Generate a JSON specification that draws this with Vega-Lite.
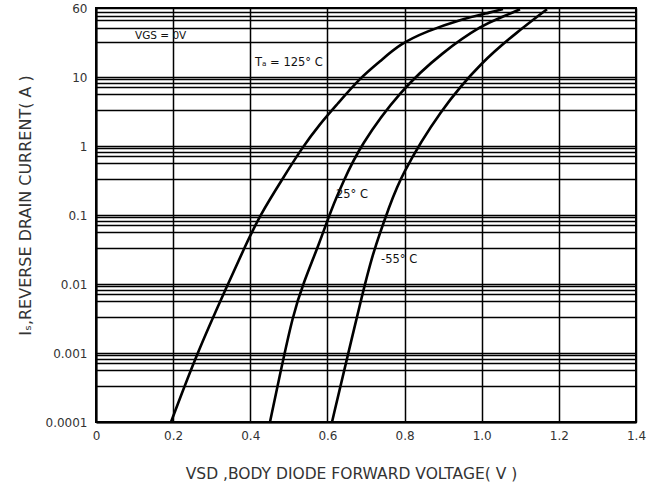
{
  "$schema": "https://vega.github.io/schema/vega-lite/v6.json",
  "width": 540,
  "height": 414,
  "autosize": "none",
  "padding": {"left": 96, "top": 8, "right": 20, "bottom": 61},
  "background": "white",
  "config": {
    "view": {"stroke": "#000", "strokeWidth": 2},
    "font": "DejaVu Sans",
    "axis": {
      "domainColor": "#000", "domainWidth": 2,
      "gridColor": "#000", "gridWidth": 1.5, "gridOpacity": 1,
      "ticks": false,
      "labelFont": "DejaVu Sans", "labelFontSize": 12, "labelColor": "#333",
      "titleFont": "DejaVu Sans", "titleFontSize": 15.5, "titleFontWeight": "normal", "titleColor": "#333",
      "labelOverlap": false, "labelFlush": false
    }
  },
  "datasets": {
    "curves": [
      {"series": "125", "v": 0.1945, "i": 0.0001},
      {"series": "125", "v": 0.2619, "i": 0.001},
      {"series": "125", "v": 0.3422, "i": 0.01},
      {"series": "125", "v": 0.3863, "i": 0.035},
      {"series": "125", "v": 0.4252, "i": 0.1},
      {"series": "125", "v": 0.4848, "i": 0.343},
      {"series": "125", "v": 0.5341, "i": 0.94},
      {"series": "125", "v": 0.5807, "i": 2.1},
      {"series": "125", "v": 0.6248, "i": 4.0},
      {"series": "125", "v": 0.6844, "i": 9.7},
      {"series": "125", "v": 0.7363, "i": 16.8},
      {"series": "125", "v": 0.7881, "i": 30.2},
      {"series": "125", "v": 0.8581, "i": 46},
      {"series": "125", "v": 0.9437, "i": 68},
      {"series": "125", "v": 1.029, "i": 88},
      {"series": "125", "v": 1.055, "i": 97},
      {"series": "25", "v": 0.4511, "i": 0.0001},
      {"series": "25", "v": 0.477, "i": 0.00049},
      {"series": "25", "v": 0.5107, "i": 0.0036},
      {"series": "25", "v": 0.5367, "i": 0.01},
      {"series": "25", "v": 0.5807, "i": 0.041},
      {"series": "25", "v": 0.6093, "i": 0.118},
      {"series": "25", "v": 0.6404, "i": 0.3},
      {"series": "25", "v": 0.6844, "i": 1.0},
      {"series": "25", "v": 0.7881, "i": 6.35},
      {"series": "25", "v": 0.8996, "i": 23.3},
      {"series": "25", "v": 1.0033, "i": 57.6},
      {"series": "25", "v": 1.0552, "i": 75},
      {"series": "25", "v": 1.0993, "i": 96},
      {"series": "-55", "v": 0.6119, "i": 0.0001},
      {"series": "-55", "v": 0.6456, "i": 0.00063},
      {"series": "-55", "v": 0.6844, "i": 0.0051},
      {"series": "-55", "v": 0.7181, "i": 0.0296},
      {"series": "-55", "v": 0.7622, "i": 0.139},
      {"series": "-55", "v": 0.7881, "i": 0.35},
      {"series": "-55", "v": 0.8918, "i": 3.32},
      {"series": "-55", "v": 1.0033, "i": 17.4},
      {"series": "-55", "v": 1.0915, "i": 44.5},
      {"series": "-55", "v": 1.1693, "i": 96}
    ],
    "notes": [
      {"label": "VGS = 0V", "kind": "cond", "v": 0.101, "i": 39},
      {"label": "Tₐ = 125° C", "kind": "temp", "v": 0.412, "i": 15.8},
      {"label": "25° C", "kind": "temp", "v": 0.622, "i": 0.197},
      {"label": "-55° C", "kind": "temp", "v": 0.739, "i": 0.022}
    ]
  },
  "layer": [
    {
      "data": {"name": "curves"},
      "mark": {"type": "line", "color": "#000", "strokeWidth": 2.6, "interpolate": "basis", "clip": true},
      "encoding": {
        "x": {
          "field": "v", "type": "quantitative",
          "scale": {"domain": [0, 1.4], "nice": false, "zero": false},
          "axis": {
            "values": [0, 0.2, 0.4, 0.6, 0.8, 1.0, 1.2, 1.4],
            "grid": true,
            "labelExpr": "datum.value == 0 ? '0' : format(datum.value, '.1f')",
            "labelPadding": 8,
            "title": "VSD ,BODY DIODE FORWARD VOLTAGE( V )",
            "titleX": 255, "titleY": 51, "titleBaseline": "middle", "titleAnchor": null
          }
        },
        "y": {
          "field": "i", "type": "quantitative",
          "scale": {"type": "log", "domain": [0.0001, 100], "nice": false},
          "axis": {
            "values": [100, 88, 77, 66, 52, 32, 10, 9.2, 8.2, 7.2, 5.7, 3.3, 1, 0.92, 0.82, 0.72, 0.57, 0.33, 0.1, 0.092, 0.082, 0.072, 0.057, 0.033, 0.01, 0.0092, 0.0082, 0.0072, 0.0057, 0.0033, 0.001, 0.00092, 0.00082, 0.00072, 0.00057, 0.00033, 0.0001],
            "grid": true,
            "labelExpr": "abs(log(datum.value)/LN10 - round(log(datum.value)/LN10)) < 0.01 ? (datum.value > 50 ? '60' : format(datum.value, '~g')) : ''",
            "labelPadding": 9,
            "title": "Iₛ,REVERSE DRAIN CURRENT( A )",
            "titleFontSize": 16,
            "titleX": -71, "titleY": 197, "titleAngle": -90, "titleBaseline": "middle", "titleAlign": "center"
          }
        },
        "detail": {"field": "series"}
      }
    },
    {
      "data": {"name": "notes"},
      "transform": [{"filter": "datum.kind == 'temp'"}],
      "mark": {"type": "text", "align": "left", "baseline": "middle", "fontSize": 11.5, "font": "DejaVu Sans", "color": "#111"},
      "encoding": {
        "x": {"field": "v", "type": "quantitative"},
        "y": {"field": "i", "type": "quantitative"},
        "text": {"field": "label"}
      }
    },
    {
      "data": {"name": "notes"},
      "transform": [{"filter": "datum.kind == 'cond'"}],
      "mark": {"type": "text", "align": "left", "baseline": "middle", "fontSize": 10.5, "font": "DejaVu Sans", "color": "#111"},
      "encoding": {
        "x": {"field": "v", "type": "quantitative"},
        "y": {"field": "i", "type": "quantitative"},
        "text": {"field": "label"}
      }
    }
  ]
}
